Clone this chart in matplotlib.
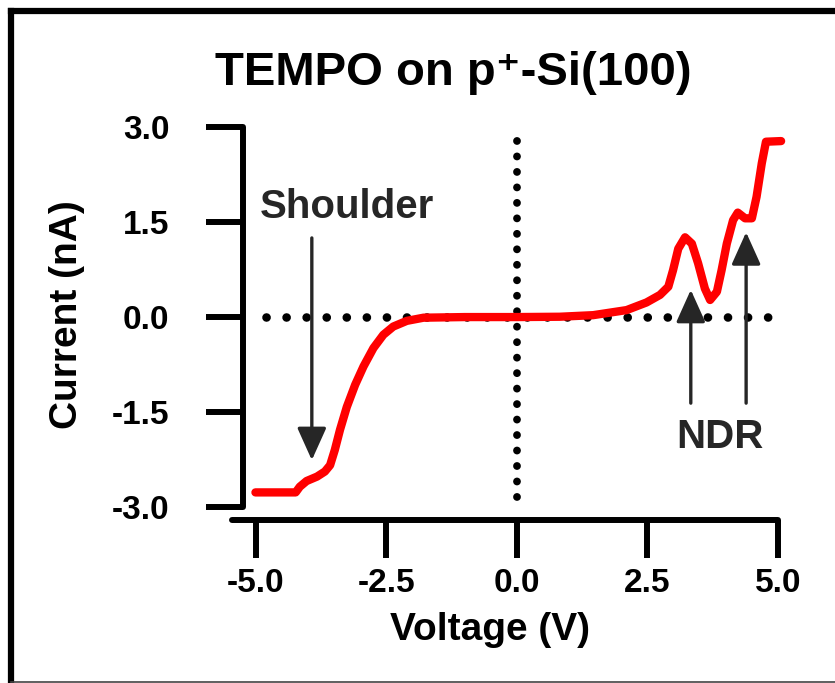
import numpy as np
import matplotlib
matplotlib.use('Agg')
import matplotlib.pyplot as plt
from matplotlib.lines import Line2D

plt.rcParams['font.family'] = ['Liberation Sans', 'DejaVu Sans']
plt.rcParams['font.weight'] = 'bold'

# I-V curve
voltage = [-5.01, -4.24, -4.16, -4.03, -3.83, -3.68, -3.58, -3.49, -3.39, -3.26,
           -3.10, -2.94, -2.75, -2.56, -2.37, -2.11, -1.79, -1.0, 0.0, 0.82,
           1.46, 2.10, 2.48, 2.74, 2.90, 2.99, 3.09, 3.22, 3.35, 3.47,
           3.60, 3.70, 3.83, 3.92, 4.02, 4.14, 4.23, 4.37, 4.50, 4.59,
           4.69, 4.77, 5.06]
current = [-2.77, -2.77, -2.68, -2.59, -2.52, -2.44, -2.34, -2.10, -1.78, -1.42,
           -1.07, -0.78, -0.49, -0.28, -0.15, -0.06, -0.01, 0.0, 0.0, 0.005,
           0.03, 0.11, 0.23, 0.35, 0.48, 0.74, 1.08, 1.26, 1.16, 0.85,
           0.45, 0.27, 0.40, 0.74, 1.16, 1.53, 1.65, 1.56, 1.56, 1.90,
           2.43, 2.77, 2.78]

xticks = [-5.0, -2.5, 0.0, 2.5, 5.0]
yticks = [-3.0, -1.5, 0.0, 1.5, 3.0]

W, H = 835, 683
fig = plt.figure(figsize=(W / 100, H / 100), dpi=100)
ax = fig.add_axes([0.2753, 0.2392, 0.6689, 0.5839])
ax.set_xlim(-5.5, 5.2)
ax.set_ylim(-3.2, 3.1)

# dotted zero lines
ax.plot([-4.8, 4.9], [0, 0], color='black', lw=6.2, ls=(0, (0.01, 2.32)),
        dash_capstyle='round')
ax.plot([0, 0], [-2.84, 2.8], color='black', lw=5.6, ls=(0, (0.01, 1.98)),
        dash_capstyle='round')

ax.plot(voltage, current, color='#ff0000', lw=6.0, solid_joinstyle='round',
        solid_capstyle='round')

# spines
for s in ['top', 'right']:
    ax.spines[s].set_visible(False)
ax.spines['left'].set_position(('data', -5.25))
ax.spines['left'].set_bounds(-3.0, 3.0)
ax.spines['bottom'].set_bounds(-5.46, 5.0)
for s in ['left', 'bottom']:
    ax.spines[s].set_linewidth(4.3)
    ax.spines[s].set_capstyle('round')

ax.set_xticks(xticks)
ax.set_yticks(yticks)
ax.set_xticklabels(['%.1f' % v for v in xticks])
ax.set_yticklabels(['%.1f' % v for v in yticks])
ax.tick_params(direction='out', length=27, width=4.3, labelsize=24)
ax.tick_params(axis='x', pad=8)
ax.tick_params(axis='y', pad=26)
for t in ax.xaxis.get_major_ticks() + ax.yaxis.get_major_ticks():
    t.tick1line.set_solid_capstyle('round')

# labels and title
fig.text(490 / W, 1 - 640 / H, 'Voltage (V)', fontsize=28, ha='center', va='baseline')
fig.text(67 / W, 1 - 315 / H, 'Current (nA)', fontsize=28, ha='center', va='center',
         rotation=90)
fig.text(453 / W, 1 - 85 / H, 'TEMPO on p\u207a-Si(100)', fontsize=34, ha='center',
         va='baseline')

# annotations
arrow = dict(arrowstyle='-|>,head_length=1.0,head_width=0.45', mutation_scale=20,
             color='#262626', lw=2.4, shrinkA=0, shrinkB=0)
ax.annotate('', xy=(-3.93, -2.26), xytext=(-3.93, 1.25), arrowprops=arrow)
ax.text(-3.26, 1.56, 'Shoulder', color='#262626', fontsize=29,
        ha='center', va='baseline')
ax.annotate('', xy=(3.33, 0.43), xytext=(3.33, -1.36), arrowprops=arrow)
ax.annotate('', xy=(4.39, 1.34), xytext=(4.39, -1.36), arrowprops=arrow)
ax.text(3.89, -2.07, 'NDR', color='#262626', fontsize=29,
        ha='center', va='baseline')

# frame around the picture
fig.add_artist(Line2D([10.5 / W, 1], [1 - 11 / H] * 2, transform=fig.transFigure,
                      color='black', lw=4.5))
fig.add_artist(Line2D([10.5 / W] * 2, [1 - 11 / H, 1 - 681.5 / H],
                      transform=fig.transFigure, color='black', lw=4.5))
fig.add_artist(Line2D([10.5 / W, 1], [1 - 681.5 / H] * 2, transform=fig.transFigure,
                      color='#444444', lw=1.2))

fig.savefig('out.png', dpi=100)
